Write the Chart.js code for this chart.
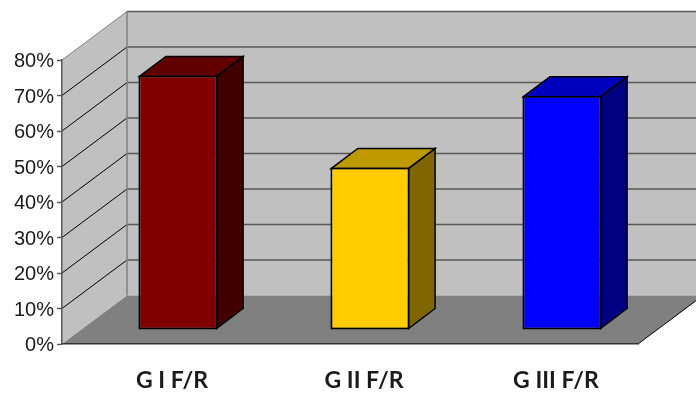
<!DOCTYPE html>
<html>
<head>
<meta charset="utf-8">
<style>
    html, body { margin: 0; padding: 0; background: #fff; }
    canvas { display: block; }
</style>
<script src="https://cdn.jsdelivr.net/npm/chart.js@4/dist/chart.umd.min.js"></script>
</head>
<body>
<canvas id="barChart" width="696" height="394"></canvas>
<script>
const categories = ["G I F/R", "G II F/R", "G III F/R"];
const seriesValues = [71.7, 45.8, 66];
const frontColors = ["#800000", "#ffcc00", "#0000ff"];
const topColors = ["#600000", "#bf9900", "#0000bf"];
const sideColors = ["#400000", "#806600", "#000080"];
const tickStep = 10;
const tickMax = 80;

// depth of the box the chart stands in, and of each bar inside it
const wallDepth = { x: 65, y: 48.5 };
const barInset = { x: 20, y: 14 };
const barDepth = { x: 26.5, y: 20 };
const barBorder = 2;

function fillPoly(ctx, points, fill, stroke, lineWidth) {
    ctx.beginPath();
    points.forEach((p, i) => i ? ctx.lineTo(p[0], p[1]) : ctx.moveTo(p[0], p[1]));
    ctx.closePath();
    if (fill) {
        ctx.fillStyle = fill;
        ctx.fill();
    }
    if (stroke) {
        ctx.strokeStyle = stroke;
        ctx.lineWidth = lineWidth;
        ctx.stroke();
    }
}

function strokeLine(ctx, x1, y1, x2, y2, color, lineWidth) {
    ctx.beginPath();
    ctx.moveTo(x1, y1);
    ctx.lineTo(x2, y2);
    ctx.strokeStyle = color;
    ctx.lineWidth = lineWidth;
    ctx.stroke();
}

const boxPlugin = {
    id: "box3d",
    // walls and floor go under the axes
    beforeDraw(chart) {
        const { ctx, chartArea: a, scales } = chart;
        const dx = wallDepth.x, dy = wallDepth.y;
        const backLeft = a.left + dx;
        const backRight = a.right + dx;

        ctx.save();
        fillPoly(ctx, [[backLeft, a.top - dy], [backRight, a.top - dy], [backRight, a.bottom - dy], [backLeft, a.bottom - dy]], "#c0c0c0");
        fillPoly(ctx, [[a.left, a.top], [backLeft, a.top - dy], [backLeft, a.bottom - dy], [a.left, a.bottom]], "#c0c0c0");

        scales.y.ticks.forEach(tick => {
            const y = scales.y.getPixelForValue(tick.value);
            if (tick.value > 0) {
                const color = tick.value === tickMax ? "#808080" : "#000000";
                strokeLine(ctx, a.left, y, backLeft, y - dy, color, 1);
                strokeLine(ctx, backLeft, y - dy, backRight, y - dy, "#595959", 1.5);
            }
        });

        fillPoly(ctx, [[a.left, a.bottom], [a.right, a.bottom], [backRight, a.bottom - dy], [backLeft, a.bottom - dy]], "#808080");
        strokeLine(ctx, a.right, a.bottom, backRight, a.bottom - dy, "#000000", 1);
        strokeLine(ctx, backLeft, a.top - dy, backLeft, a.bottom - dy, "#808080", 1.5);
        ctx.restore();
    },
    // bars stand inset from the front edge; top and side faces are drawn first
    beforeDatasetsDraw(chart) {
        const { ctx } = chart;
        ctx.save();
        ctx.translate(barInset.x, -barInset.y);
        chart.getDatasetMeta(0).data.forEach((bar, i) => {
            const { x, y, base, width } = bar.getProps(["x", "y", "base", "width"], true);
            // the native border sits inside the bar, so follow its centre line
            const half = barBorder / 2;
            const left = x - width / 2 + half;
            const right = x + width / 2 - half;
            const top = y + half;
            const bottom = base - half;
            const dx = barDepth.x, dy = barDepth.y;
            fillPoly(ctx, [[right, top], [right + dx, top - dy], [right + dx, bottom - dy], [right, bottom]], sideColors[i], "#000000", 1.5);
            fillPoly(ctx, [[left, top], [left + dx, top - dy], [right + dx, top - dy], [right, top]], topColors[i], "#000000", 1.5);
        });
    },
    afterDatasetsDraw(chart) {
        chart.ctx.restore();
    }
};

new Chart(document.getElementById("barChart"), {
    type: "bar",
    data: {
        labels: categories,
        datasets: [{
            data: seriesValues,
            backgroundColor: frontColors,
            borderColor: "#000000",
            borderWidth: barBorder,
            borderSkipped: false,
            barPercentage: 0.4125,
            categoryPercentage: 1,
            clip: false
        }]
    },
    options: {
        responsive: false,
        animation: false,
        layout: { padding: { top: 60, right: 58, left: 0, bottom: 0 } },
        plugins: { legend: { display: false }, tooltip: { enabled: false } },
        scales: {
            x: {
                afterFit: scale => { scale.height = 50; },
                grid: { display: true, drawOnChartArea: false, drawTicks: false },
                border: { color: "#333333", width: 1.5 },
                ticks: {
                    color: "#1a1a1a",
                    font: { family: "Lato", size: 23, weight: "bold" },
                    padding: 23,
                    labelOffset: 14,
                    maxRotation: 0
                }
            },
            y: {
                min: 0,
                max: tickMax,
                afterFit: scale => { scale.width = 62; },
                grid: { display: true, drawOnChartArea: false, drawTicks: true, tickLength: 5, tickColor: "#595959", tickWidth: 1.5 },
                border: { color: "#595959", width: 1.5 },
                ticks: {
                    stepSize: tickStep,
                    color: "#1a1a1a",
                    padding: 3,
                    labelOffset: 1.5,
                    font: { family: "Liberation Sans", size: 20 },
                    callback: value => value + "%"
                }
            }
        }
    },
    plugins: [boxPlugin]
});
</script>
</body>
</html>
